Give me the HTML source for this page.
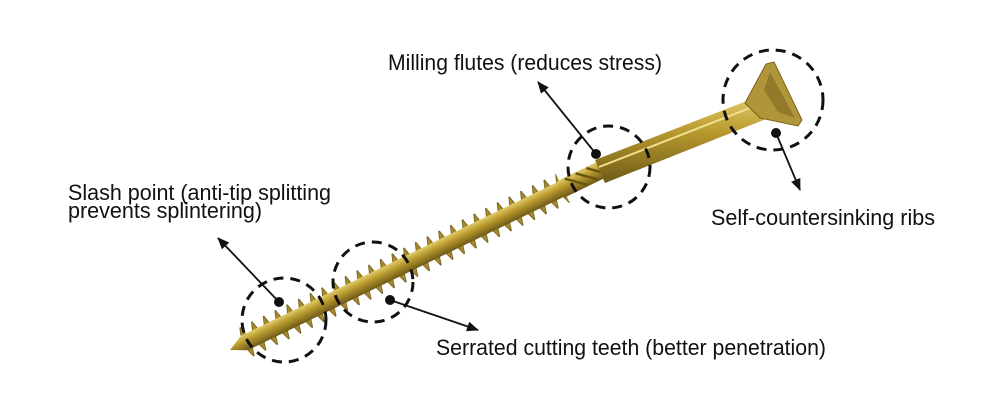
<!DOCTYPE html>
<html><head><meta charset="utf-8"><style>
html,body{margin:0;padding:0;background:#fff;}
svg{display:block}
text{font-family:"Liberation Sans",sans-serif;font-size:22px;fill:#111;}
</style></head><body>
<svg width="1000" height="400" viewBox="0 0 1000 400" xmlns="http://www.w3.org/2000/svg">
<defs>
<linearGradient id="g" x1="0" y1="0" x2="0" y2="1">
<stop offset="0" stop-color="#e2cc6a"/><stop offset="0.4" stop-color="#b99a2e"/><stop offset="1" stop-color="#6e5a18"/>
</linearGradient>
<pattern id="teeth" x="0" y="-17" width="13" height="34" patternUnits="userSpaceOnUse">
<polygon points="0,17 6,0 10,17 6,34" fill="#a88b28" stroke="#5e4c12" stroke-width="0.7"/>
</pattern>
<marker id="ah" markerWidth="12" markerHeight="10" refX="11" refY="5" orient="auto" markerUnits="userSpaceOnUse">
<path d="M0,0 L12,5 L0,10 z" fill="#111"/>
</marker>
</defs>

<g transform="translate(230,350) rotate(-25.9)">
<rect x="16" y="-16" width="354" height="32" fill="url(#teeth)"/>
<polygon points="0,0 16,-8 380,-8 380,8 16,8" fill="url(#g)"/>
<polygon points="368,-9 420,-9 420,9 368,9" fill="url(#g)"/>
<path d="M376,-8 L394,8 M388,-8 L406,8 M400,-8 L418,8" stroke="#6a5614" stroke-width="2.5"/>
</g>
<polygon points="595,160 757,97 766,119 605,183" fill="url(#g)"/>
<line x1="599" y1="167" x2="760" y2="104" stroke="#f0e090" stroke-width="2"/>
<polygon points="745,103 766,64 774,62 802,120 798,126 760,118" fill="#b0953a" stroke="#7a6418" stroke-width="1"/>
<polygon points="770,72 795,118 778,112 764,90" fill="#937a2a"/>

<g fill="none" stroke="#111" stroke-width="3" stroke-dasharray="10,7">
<circle cx="284" cy="320" r="42"/>
<circle cx="373" cy="282" r="40"/>
<circle cx="609" cy="167" r="41"/>
<circle cx="773" cy="100" r="50"/>
</g>
<g fill="#111">
<circle cx="279" cy="302" r="5"/><circle cx="390" cy="300" r="5"/>
<circle cx="596" cy="154" r="5"/><circle cx="776" cy="133" r="5"/>
</g>
<g stroke="#111" stroke-width="1.8" marker-end="url(#ah)">
<line x1="279" y1="302" x2="218" y2="238"/>
<line x1="390" y1="300" x2="478" y2="330"/>
<line x1="596" y1="154" x2="538" y2="82"/>
<line x1="776" y1="133" x2="800" y2="190"/>
</g>

<text x="68" y="200" textLength="263" lengthAdjust="spacingAndGlyphs">Slash point (anti-tip splitting</text>
<text x="68" y="218" textLength="194" lengthAdjust="spacingAndGlyphs">prevents splintering)</text>
<text x="388" y="70" textLength="274" lengthAdjust="spacingAndGlyphs">Milling flutes (reduces stress)</text>
<text x="711" y="225" textLength="224" lengthAdjust="spacingAndGlyphs">Self-countersinking ribs</text>
<text x="436" y="355" textLength="390" lengthAdjust="spacingAndGlyphs">Serrated cutting teeth (better penetration)</text>
</svg>
</body></html>
